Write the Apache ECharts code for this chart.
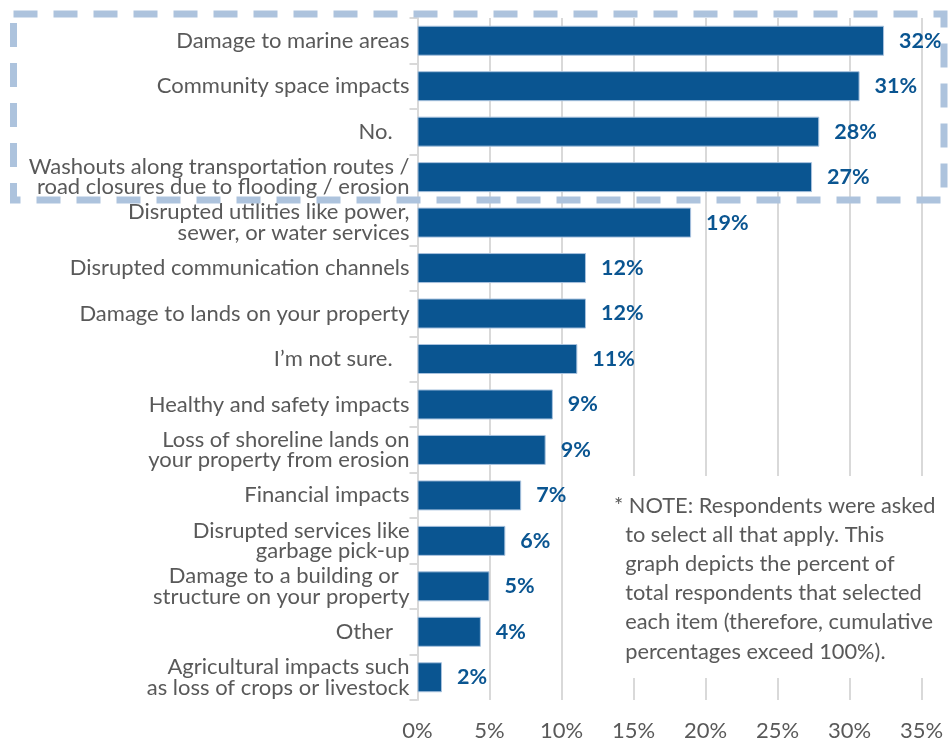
<!DOCTYPE html>
<html>
<head>
<meta charset="utf-8">
<script src="https://cdn.jsdelivr.net/npm/echarts@6/dist/echarts.min.js"></script>
<style>
html,body{margin:0;padding:0;background:#fff;}
#chart{width:948px;height:742px;}
</style>
</head>
<body>
<div id="chart"></div>
<script>
const categories = [
  "Damage to marine areas",
  "Community space impacts",
  "No.\u00a0\u00a0\u00a0",
  "Washouts along transportation routes /\nroad closures due to flooding / erosion",
  "Disrupted utilities like power,\nsewer, or water services",
  "Disrupted communication channels",
  "Damage to lands on your property",
  "I\u2019m not sure.\u00a0\u00a0\u00a0",
  "Healthy and safety impacts",
  "Loss of shoreline lands on\nyour property from erosion",
  "Financial impacts",
  "Disrupted services like\ngarbage pick-up",
  "Damage to a building or\u00a0\u00a0\nstructure on your property",
  "Other\u00a0\u00a0\u00a0",
  "Agricultural impacts such\nas loss of crops or livestock"
];
const values = [32.4, 30.7, 27.9, 27.4, 19.0, 11.7, 11.7, 11.1, 9.4, 8.9, 7.2, 6.1, 5.0, 4.4, 1.7];
const valueLabels = ["32%", "31%", "28%", "27%", "19%", "12%", "12%", "11%", "9%", "9%", "7%", "6%", "5%", "4%", "2%"];
const xTicks = [0, 5, 10, 15, 20, 25, 30, 35];
const noteLines = [
  "* NOTE: Respondents were asked",
  "  to select all that apply. This",
  "  graph depicts the percent of",
  "  total respondents that selected",
  "  each item (therefore, cumulative",
  "  percentages exceed 100%)."
];

const chart = echarts.init(document.getElementById('chart'));
const barColor = '#0a5591';

const option = {
  animation: false,
  grid: { left: 417.5, right: 26.5, top: 18, bottom: 39, containLabel: false },
  xAxis: {
    type: 'value',
    min: xTicks[0],
    max: xTicks[xTicks.length - 1],
    interval: 5,
    axisLine: { show: false },
    axisTick: { show: false },
    splitLine: { show: true, lineStyle: { color: '#d9d9d9', width: 2 } },
    axisLabel: {
      formatter: v => v + '%',
      color: '#595959',
      fontFamily: 'Lato',
      fontSize: 22,
      margin: 20
    }
  },
  yAxis: {
    type: 'category',
    data: categories,
    inverse: true,
    axisLine: { show: true, lineStyle: { color: '#d9d9d9', width: 2 } },
    axisTick: { show: true, length: 8, lineStyle: { color: '#d9d9d9', width: 2 } },
    splitLine: { show: false },
    axisLabel: {
      color: '#595959',
      fontFamily: 'Lato',
      fontSize: 22,
      lineHeight: 20.5,
      margin: 8
    }
  },
  series: [{
    type: 'bar',
    data: values,
    barWidth: 30,
    itemStyle: { color: barColor, borderColor: '#a8c2de', borderWidth: 1 },
    label: {
      show: true,
      position: 'right',
      distance: 15,
      formatter: p => valueLabels[p.dataIndex],
      color: barColor,
      fontFamily: 'Lato',
      fontWeight: 'bold',
      fontSize: 21.5
    }
  }],
  graphic: [
    {
      type: 'rect',
      z: 10,
      shape: { x: 600, y: 476, width: 348, height: 202 },
      style: { fill: '#ffffff', stroke: null }
    },
    {
      type: 'text',
      z: 11,
      left: 614,
      top: 491,
      style: {
        text: noteLines.join('\n'),
        fill: '#595959',
        fontFamily: 'Lato',
        fontSize: 21.8,
        lineHeight: 29.2
      }
    },
    {
      type: 'rect',
      z: 20,
      shape: { x: 13.5, y: 14, width: 930.5, height: 186 },
      style: { fill: null, stroke: '#adc3dd', lineWidth: 7, lineDash: [24, 16] }
    }
  ]
};
chart.setOption(option);
</script>
</body>
</html>
